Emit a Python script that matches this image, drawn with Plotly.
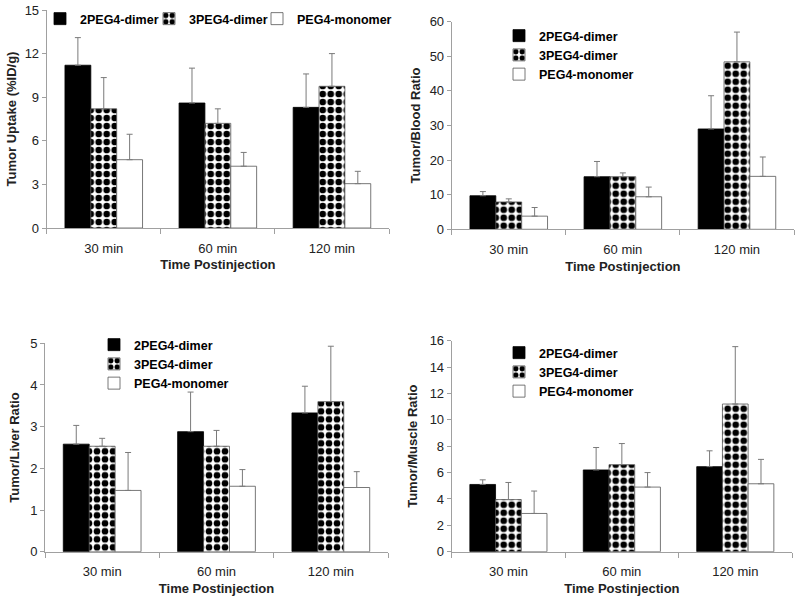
import plotly.graph_objects as go

times = ["30 min", "60 min", "120 min"]
series = ["2PEG4-dimer", "3PEG4-dimer", "PEG4-monomer"]

# tumor uptake (%ID/g), mean and SD
uptake_2peg4 = [11.2, 8.6, 8.3]
uptake_2peg4_sd = [1.9, 2.4, 2.3]
uptake_3peg4 = [8.2, 7.2, 9.75]
uptake_3peg4_sd = [2.15, 1.0, 2.25]
uptake_mono = [4.7, 4.25, 3.05]
uptake_mono_sd = [1.75, 0.95, 0.85]

# tumor/blood ratio
blood_2peg4 = [9.7, 15.2, 29.0]
blood_2peg4_sd = [1.2, 4.4, 9.6]
blood_3peg4 = [7.9, 15.2, 48.4]
blood_3peg4_sd = [0.9, 1.1, 8.6]
blood_mono = [3.8, 9.4, 15.3]
blood_mono_sd = [2.5, 2.8, 5.6]

# tumor/liver ratio
liver_2peg4 = [2.58, 2.88, 3.33]
liver_2peg4_sd = [0.45, 0.95, 0.64]
liver_3peg4 = [2.53, 2.53, 3.6]
liver_3peg4_sd = [0.19, 0.38, 1.33]
liver_mono = [1.47, 1.57, 1.54]
liver_mono_sd = [0.91, 0.40, 0.38]

# tumor/muscle ratio
muscle_2peg4 = [5.1, 6.2, 6.45]
muscle_2peg4_sd = [0.35, 1.7, 1.2]
muscle_3peg4 = [3.95, 6.6, 11.2]
muscle_3peg4_sd = [1.3, 1.6, 4.35]
muscle_mono = [2.9, 4.9, 5.15]
muscle_mono_sd = [1.7, 1.1, 1.85]

panels = [
    ("Tumor Uptake (%ID/g)", [uptake_2peg4, uptake_3peg4, uptake_mono],
     [uptake_2peg4_sd, uptake_3peg4_sd, uptake_mono_sd], 15, 3),
    ("Tumor/Blood Ratio", [blood_2peg4, blood_3peg4, blood_mono],
     [blood_2peg4_sd, blood_3peg4_sd, blood_mono_sd], 60, 10),
    ("Tumor/Liver Ratio", [liver_2peg4, liver_3peg4, liver_mono],
     [liver_2peg4_sd, liver_3peg4_sd, liver_mono_sd], 5, 1),
    ("Tumor/Muscle Ratio", [muscle_2peg4, muscle_3peg4, muscle_mono],
     [muscle_2peg4_sd, muscle_3peg4_sd, muscle_mono_sd], 16, 2),
]

W, H = 800, 603
# plot areas in window pixels: x0, x1, ytop, ybottom
boxes = [(46.7, 389, 10, 228), (451.7, 794, 21.7, 229.3),
         (45, 388, 343.3, 551.7), (451.7, 792, 340.7, 551.7)]
ytitle_standoff = [5, 6, 7, 9]


def fx(px):
    return px / W


def fy(py):
    return 1 - py / H


FONT = "Liberation Sans, Arial, sans-serif"
fig = go.Figure()

# panel 1 has a row of three legend entries, the others one vertical legend each
legend_ids = [["legend", "legend2", "legend3"], ["legend4"] * 3, ["legend5"] * 3, ["legend6"] * 3]

for p, (ytitle, means, sds, ymax, dtick) in enumerate(panels):
    ax = "" if p == 0 else str(p + 1)
    for s, name in enumerate(series):
        marker = dict(line=dict(color="#555555", width=0.8))
        if s == 0:
            marker["color"] = "black"
            marker["line"] = dict(color="black", width=0.8)
        elif s == 1:
            marker["color"] = "white"
            marker["pattern"] = dict(shape=".", fgcolor="black", bgcolor="white",
                                     size=8, solidity=0.55, fillmode="replace")
        else:
            marker["color"] = "white"
        fig.add_trace(go.Bar(
            x=times, y=means[s], name=name, marker=marker, showlegend=True,
            xaxis="x" + ax, yaxis="y" + ax, legend=legend_ids[p][s],
            error_y=dict(type="data", array=sds[s], arrayminus=[0, 0, 0],
                         symmetric=False, color="#7a7a7a", thickness=1, width=3),
        ))
    x0, x1, yt, yb = boxes[p]
    fig.update_layout({
        "xaxis" + ax: dict(domain=[fx(x0), fx(x1)], anchor="y" + ax,
                           showline=True, linecolor="#a0a0a0", linewidth=1,
                           ticks="outside", tickson="boundaries", ticklen=5,
                           tickcolor="#a0a0a0", ticklabelstandoff=8,
                           tickfont=dict(family=FONT, size=13, color="#222"),
                           title=dict(text="Time Postinjection", standoff=5,
                                      font=dict(family=FONT, size=13, color="#222", weight="bold"))),
        "yaxis" + ax: dict(domain=[fy(yb), fy(yt)], anchor="x" + ax,
                           range=[0, ymax], dtick=dtick, showgrid=False, zeroline=False,
                           showline=True, linecolor="#a0a0a0", linewidth=1,
                           ticks="outside", ticklen=4, tickcolor="#a0a0a0",
                           ticklabeloverflow="allow",
                           tickfont=dict(family=FONT, size=13, color="#222"),
                           title=dict(text=ytitle, standoff=ytitle_standoff[p],
                                      font=dict(family=FONT, size=13, color="#222", weight="bold"))),
    })

leg_font = dict(family=FONT, size=12.5, color="black", weight="bold")
common = dict(bgcolor="rgba(0,0,0,0)", borderwidth=0, font=leg_font,
              xanchor="left", yanchor="top", itemclick=False)
fig.update_layout(
    showlegend=True,
    legend=dict(x=fx(40), y=fy(4), **common),
    legend2=dict(x=fx(149), y=fy(4), **common),
    legend3=dict(x=fx(257), y=fy(4), **common),
    legend4=dict(x=fx(499), y=fy(21), **common),
    legend5=dict(x=fx(94), y=fy(330), **common),
    legend6=dict(x=fx(499), y=fy(338), **common),
    barmode="group", bargap=0.32, bargroupgap=0,
    width=W, height=H, margin=dict(l=0, r=0, t=0, b=0, autoexpand=False),
    paper_bgcolor="white", plot_bgcolor="white",
    font=dict(family=FONT),
)

# drop the browser's default body margin so the figure fills the window
fig.write_html("out.html", config={"displayModeBar": False},
               post_script="document.body.style.margin = '0';")
